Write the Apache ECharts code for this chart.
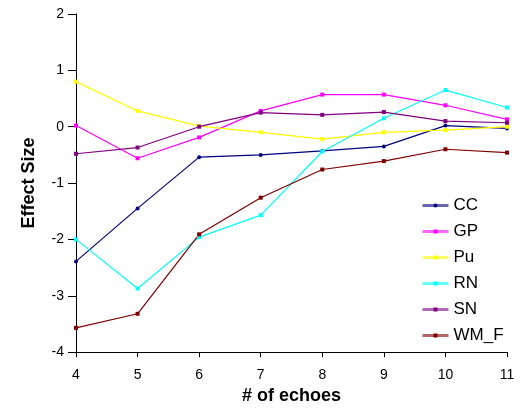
<!DOCTYPE html>
<html>
<head>
<meta charset="utf-8">
<script src="https://cdn.jsdelivr.net/npm/echarts@6/dist/echarts.min.js"></script>
<style>html,body{margin:0;padding:0;background:#fff}#c{width:522px;height:410px}</style>
</head>
<body>
<div id="c"></div>
<script>
const echoes = [4, 5, 6, 7, 8, 9, 10, 11];
const seriesNames = ['CC', 'GP', 'Pu', 'RN', 'SN', 'WM_F'];
const CC   = [-2.39, -1.45, -0.54, -0.50, -0.43, -0.35, 0.02, -0.03];
const GP   = [0.02, -0.56, -0.19, 0.28, 0.57, 0.57, 0.38, 0.13];
const Pu   = [0.80, 0.28, 0.01, -0.10, -0.22, -0.10, -0.06, 0.00];
const RN   = [-2.00, -2.87, -1.96, -1.57, -0.44, 0.15, 0.65, 0.34];
const SN   = [-0.48, -0.37, 0.00, 0.25, 0.21, 0.26, 0.10, 0.07];
const WM_F = [-3.57, -3.32, -1.91, -1.26, -0.76, -0.61, -0.40, -0.46];
const yTicks = [-4, -3, -2, -1, 0, 1, 2];
const xTicks = [4, 5, 6, 7, 8, 9, 10, 11];

const values = [CC, GP, Pu, RN, SN, WM_F];
const colors = ['#000080', '#FF00FF', '#FFFF00', '#00FFFF', '#800080', '#800000'];
const symbols = ['circle', 'rect', 'rect', 'rect', 'rect', 'rect'];
const font = 'Arial, "Liberation Sans", sans-serif';

const chart = echarts.init(document.getElementById('c'), null, {renderer: 'canvas'});
chart.setOption({
  animation: false,
  backgroundColor: '#ffffff',
  textStyle: {fontFamily: font},
  grid: {left: 76, right: 15, top: 14, bottom: 52},
  xAxis: {
    type: 'value', min: xTicks[0], max: xTicks[xTicks.length - 1], interval: 1,
    name: '# of echoes', nameLocation: 'middle', nameGap: 31,
    nameTextStyle: {fontFamily: font, fontSize: 18, fontWeight: 'bold', color: '#000'},
    axisLine: {show: true, onZero: false, lineStyle: {color: '#000', width: 1}},
    axisTick: {show: true, inside: false, length: 5, lineStyle: {color: '#000'}},
    axisLabel: {fontFamily: font, fontSize: 14, color: '#000', margin: 16},
    splitLine: {show: false}
  },
  yAxis: {
    type: 'value', min: yTicks[0], max: yTicks[yTicks.length - 1], interval: 1,
    name: 'Effect Size', nameLocation: 'middle', nameGap: 38, nameRotate: 90,
    nameTextStyle: {fontFamily: font, fontSize: 18, fontWeight: 'bold', color: '#000'},
    axisLine: {show: true, lineStyle: {color: '#000', width: 1}},
    axisTick: {show: true, inside: false, length: 8, lineStyle: {color: '#000'}},
    axisLabel: {fontFamily: font, fontSize: 14, color: '#000', margin: 12},
    splitLine: {show: false}
  },
  legend: {
    orient: 'vertical', left: 416, top: 192,
    itemWidth: 26, itemHeight: 5, itemGap: 9,
    textStyle: {fontFamily: font, fontSize: 17, color: '#000'},
    data: seriesNames.map((n, i) => ({name: n, itemStyle: {color: colors[i]}, lineStyle: {width: 3, opacity: 0.6, color: colors[i]}}))
  },
  series: seriesNames.map((n, i) => ({
    name: n, type: 'line',
    data: echoes.map((x, j) => [x, values[i][j]]),
    symbol: symbols[i], symbolSize: 4, showSymbol: true,
    lineStyle: {color: colors[i], width: 1.2},
    itemStyle: {color: colors[i]},
    emphasis: {disabled: true}
  }))
});
</script>
</body>
</html>
